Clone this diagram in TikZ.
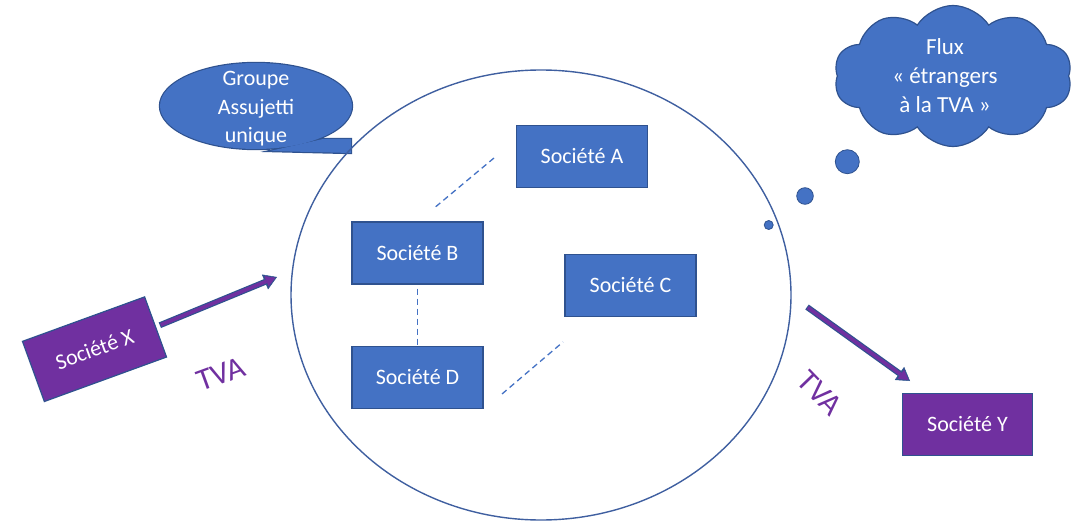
\documentclass[tikz,border=0pt]{standalone}
\usepackage{fontspec}
\setmainfont{Carlito}
\usetikzlibrary{shapes.geometric,shapes.symbols,arrows.meta}
\definecolor{bfill}{HTML}{4472C4}
\definecolor{bedge}{HTML}{2F528F}
\definecolor{purp}{HTML}{7030A0}
\definecolor{ring}{HTML}{3F5FA0}
\begin{document}
\begin{tikzpicture}[x=1pt,y=-1pt,
  soc/.style={rectangle, fill=bfill, draw=bedge, line width=1.2pt, text=white,
    minimum width=131pt, minimum height=62pt, inner sep=0pt,
    font=\fontsize{22}{26}\selectfont},
  socp/.style={soc, fill=purp},
  link/.style={draw=bfill, dash pattern=on 6pt off 4pt, line width=1.3pt},
  tva/.style={text=purp, inner sep=0pt, font=\fontsize{31}{36}\selectfont},
  wtext/.style={text=white, align=center, inner sep=0pt},
  dot/.style={circle, fill=bfill, draw=bedge, line width=0.8pt, inner sep=0pt},
  arrowout/.style={draw=bedge, line width=6pt, -{Triangle[length=13pt,width=16pt,line width=0.5pt]}},
  arrowin/.style={draw=purp, line width=3.6pt, shorten >=1.8pt, -{Triangle[length=9.5pt,width=11pt,line width=0.5pt]}}
]
\useasboundingbox (0,0) rectangle (1081,524);

% speech bubble
\node[ellipse, draw=bedge, line width=2.4pt, minimum width=192pt, minimum height=86pt, inner sep=0pt] (G) at (256,106) {};
\draw[bedge, line width=2.4pt, line join=miter] (323,139) -- (351,139) -- (351,153) -- (270,151) -- cycle;
\fill[bfill] (323,139) -- (351,139) -- (351,153) -- (270,151) -- cycle;
\fill[bfill] (G.center) ellipse [x radius=96pt, y radius=43pt];
\node[wtext, font=\fontsize{22}{28.5}\selectfont] (gt) at (256,109) {Groupe\\Assujetti\\unique};

% big circle
\node[ellipse, draw=ring, line width=1.4pt, minimum width=500pt, minimum height=450pt, inner sep=0pt] (E) at (541,295) {};

% companies
\node[soc] (A) at (582,156.5) {Société A};
\node[soc] (B) at (417.5,253) {Société B};
\node[soc] (C) at (630.5,285.5) {Société C};
\node[soc] (D) at (417.5,377.5) {Société D};
\node[socp, rotate=20, minimum width=130pt, minimum height=64pt] (X) at (94.5,349.2) {Société X};
\node[socp, minimum width=130pt] (Y) at (967.5,424.2) {Société Y};

% dashed links
\coordinate (ab1) at (494,158);
\coordinate (ab2) at (433,209);
\draw[link] (ab1) -- (ab2);
\draw[link, shorten <=4pt] (B) -- (D);
\coordinate (dc1) at (502,394);
\coordinate (dc2) at (563,342);
\draw[link] (dc1) -- (dc2);

% cloud and thought dots
\node[cloud, cloud puffs=10, cloud puff arc=115, aspect=1.7, fill=bfill, draw=bedge, line width=1.2pt,
      minimum width=238pt, minimum height=141pt, inner sep=0pt] (F) at (953,76) {};
\node[wtext, font=\fontsize{23}{29}\selectfont] (ft) at (945,76) {Flux\\« étrangers\\à la TVA »};
\node[dot, minimum size=24pt] (t1) at (847.3,161.7) {};
\node[dot, minimum size=16.6pt] (t2) at (805,196) {};
\node[dot, minimum size=9pt] (t3) at (768.7,225) {};

% VAT arrows
\coordinate (xt) at (277,277);
\draw[arrowout, shorten <=4pt] (X.east) -- (xt);
\draw[arrowin, shorten <=5pt] (X.east) -- (xt);
\coordinate (ys) at (807,307);
\coordinate (yt) at (910,381);
\draw[arrowout] (ys) -- (yt);
\draw[arrowin, shorten <=1pt] (ys) -- (yt);

% TVA labels
\node[tva, rotate=20] (tv1) at (221,374) {TVA};
\node[tva, rotate=-46] (tv2) at (820,393) {TVA};
\end{tikzpicture}
\end{document}
